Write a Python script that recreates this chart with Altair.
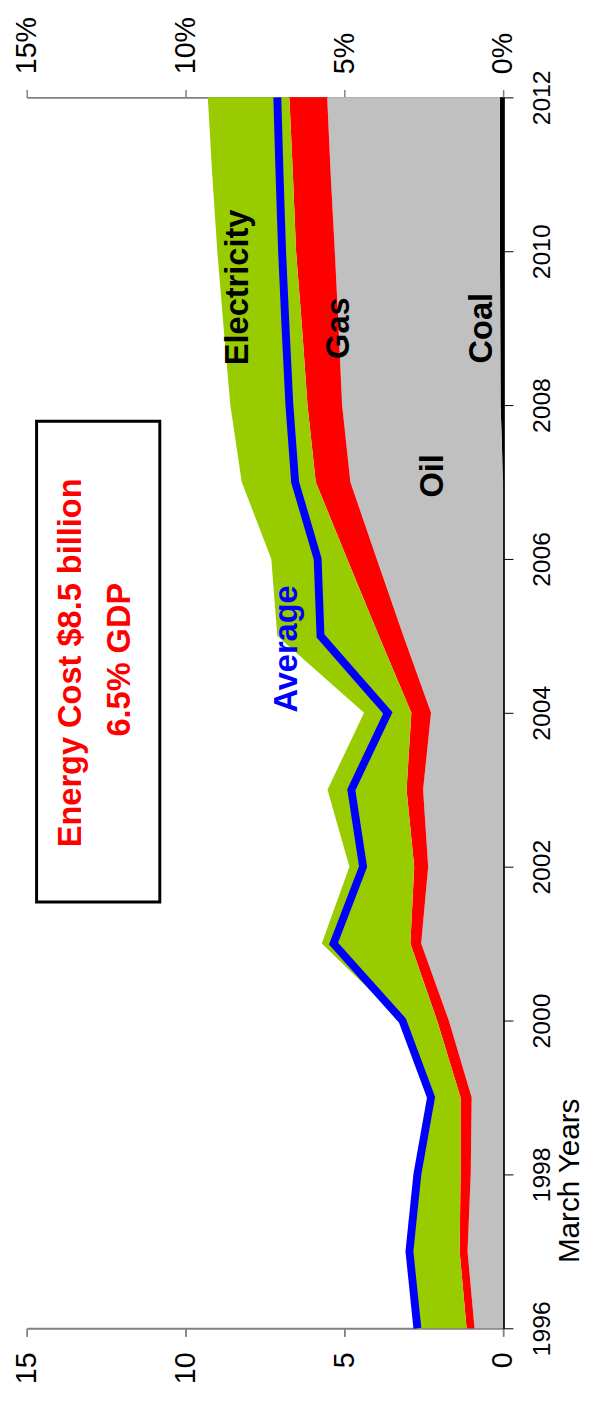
import altair as alt
import pandas as pd

FONT = "Liberation Sans"

years = list(range(1996, 2013))
# shares of GDP (%) per energy source, stacked from the zero line outwards
coal = [0, 0, 0, 0, 0, 0, 0, 0, 0, 0, 0, 0, 0.08, 0.09, 0.10, 0.10, 0.10]
oil = [0.90, 1.12, 1.02, 0.99, 1.71, 2.58, 2.36, 2.52, 2.27, 3.14, 3.98, 4.81, 4.99, 5.09, 5.20, 5.33, 5.44]
gas = [0.25, 0.25, 0.32, 0.35, 0.37, 0.34, 0.44, 0.52, 0.62, 0.77, 0.93, 1.09, 1.09, 1.15, 1.22, 1.19, 1.19]
electricity = [1.55, 1.58, 1.36, 0.93, 1.12, 2.79, 2.04, 2.49, 1.49, 3.20, 2.39, 2.33, 2.43, 2.47, 2.48, 2.54, 2.57]
average = [2.70, 2.95, 2.70, 2.27, 3.17, 5.34, 4.41, 4.78, 3.63, 5.75, 5.84, 6.55, 6.73, 6.85, 6.96, 7.04, 7.11]

series_names = ["Coal", "Oil", "Gas", "Electricity"]
series_values = [coal, oil, gas, electricity]
series_colors = ["#000000", "#C0C0C0", "#FF0000", "#99CC00"]

value_ticks = [0, 5, 10, 15]
year_ticks = list(range(1996, 2013, 2))

rows = []
base = [0.0] * len(years)
for name, vals in zip(series_names, series_values):
    for i, yr in enumerate(years):
        rows.append({"year": yr, "series": name, "lo": base[i], "hi": base[i] + vals[i]})
    base = [b + v for b, v in zip(base, vals)]
area_df = pd.DataFrame(rows)
avg_df = pd.DataFrame({"year": years, "avg": average})

# annotation texts (value, year) positions
ann_label = ["Electricity", "Gas", "Coal", "Oil", "Average",
             "Energy Cost $8.5 billion", "6.5% GDP"]
ann_x = [8.35, 5.16, 0.65, 2.2, 6.8, 13.59, 12.05]
ann_y = [2009.53, 2009.0, 2009.0, 2007.08, 2004.83, 2004.65, 2004.69]
ann_color = ["black", "black", "black", "black", "#0000FF", "#FF0000", "#FF0000"]
ann_df = pd.DataFrame({"label": ann_label, "x": ann_x, "y": ann_y, "color": ann_color})

box_df = pd.DataFrame({"x": [10.81], "x2": [14.69], "y": [2001.54], "y2": [2007.79]})

xscale = alt.Scale(domain=[0, 15], reverse=True, nice=False, zero=False)
yscale = alt.Scale(domain=[1996, 2012], nice=False, zero=False)

bottom_axis = alt.Axis(orient="bottom", values=value_ticks, format="d", labelAngle=270,
                       labelAlign="right", labelBaseline="middle", labelFontSize=29,
                       labelFont=FONT, labelColor="black", labelPadding=16, labelFlush=False,
                       labelOverlap=False, tickSize=8, tickColor="#808080", tickWidth=1.5,
                       domainColor="#808080", domainWidth=2, grid=False, title=None)
top_axis = alt.Axis(orient="top", values=value_ticks, format="d", labelAngle=270,
                    labelAlign="left", labelBaseline="middle", labelFontSize=29,
                    labelFont=FONT, labelColor="black", labelPadding=16, labelFlush=False,
                    labelOverlap=False, labelExpr="datum.label + '%'", tickSize=8,
                    tickColor="#808080", tickWidth=1.5, domainColor="#808080",
                    domainWidth=2, grid=False, title=None)
inner_axis = alt.Axis(orient="bottom", position=0, values=value_ticks, labels=False,
                      domain=False, tickSize=8, tickColor="#808080", tickWidth=1.5,
                      grid=False, title=None)
year_axis = alt.Axis(orient="right", values=year_ticks, format="d", labelAngle=270,
                     labelAlign="center", labelBaseline="top", labelFontSize=25,
                     labelFont=FONT, labelColor="black", labelPadding=17, labelFlush=False,
                     labelOverlap=False, tickSize=10, tickColor="black", tickWidth=1,
                     domainColor="black", domainWidth=2.5, grid=False,
                     title="March Years", titleAngle=270, titleFontSize=30, titleFont=FONT,
                     titleFontWeight="normal", titleColor="black", titleX=52, titleY=1098,
                     titleAlign="center", titleBaseline="top")

areas = alt.Chart(area_df).mark_area(orient="horizontal").encode(
    x=alt.X("lo:Q", scale=xscale, axis=bottom_axis),
    x2="hi:Q",
    y=alt.Y("year:Q", scale=yscale, axis=year_axis),
    color=alt.Color("series:N", scale=alt.Scale(domain=series_names, range=series_colors),
                    legend=None),
    detail="series:N",
)

avg_line = alt.Chart(avg_df).mark_line(color="#0000FF", strokeWidth=8, strokeJoin="miter").encode(
    x=alt.X("avg:Q", scale=xscale, axis=top_axis),
    y=alt.Y("year:Q", scale=yscale, axis=None),
    order="year:Q",
)

box = alt.Chart(box_df).mark_rect(fill="white", stroke="black", strokeWidth=3).encode(
    x=alt.X("x:Q", scale=xscale, axis=inner_axis),
    x2="x2:Q",
    y=alt.Y("y:Q", scale=yscale, axis=None),
    y2="y2:Q",
)

texts = alt.Chart(ann_df).mark_text(angle=270, align="center", baseline="middle",
                                    fontSize=33, fontWeight="bold", font=FONT).encode(
    x=alt.X("x:Q", scale=xscale, axis=None),
    y=alt.Y("y:Q", scale=yscale, axis=None),
    text="label:N",
    color=alt.Color("color:N", scale=None),
)

chart = alt.layer(areas, avg_line, box, texts).resolve_axis(
    x="independent", y="independent"
).properties(
    width=483, height=1248,
    autosize=alt.AutoSizeParams(type="none"),
    padding={"left": 19, "top": 81, "right": 82, "bottom": 55},
    background="white",
).configure_view(stroke=None)

chart.save("out.html", embed_options={"renderer": "svg", "actions": False})
